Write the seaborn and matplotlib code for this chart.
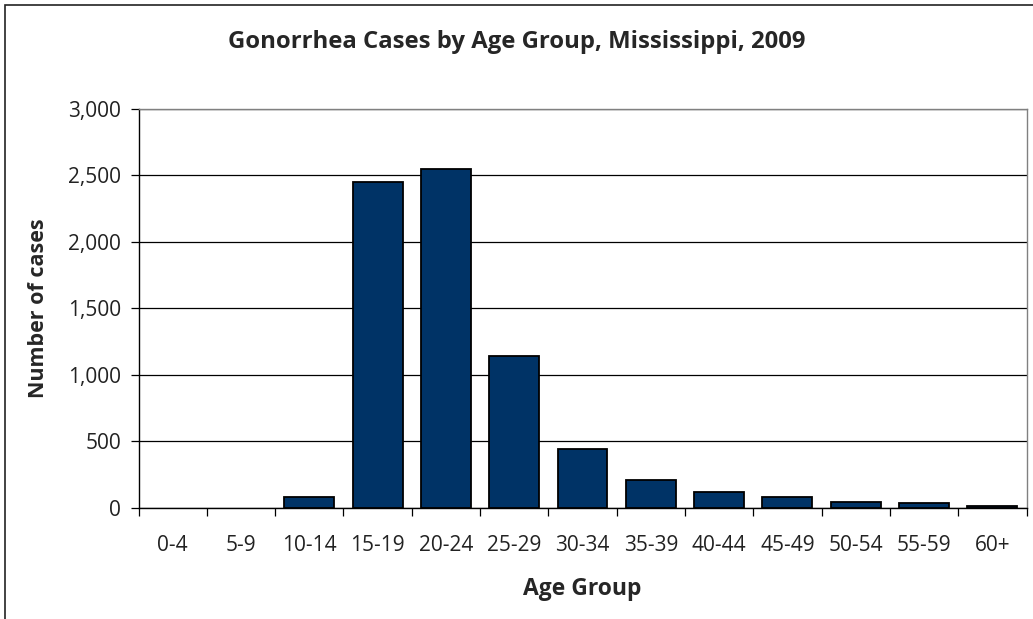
import matplotlib
matplotlib.use("Agg")
import matplotlib.pyplot as plt
import seaborn as sns
import pandas as pd
import numpy as np
from matplotlib.patches import Rectangle
from matplotlib.ticker import FuncFormatter, FixedLocator

age_groups = ["0-4", "5-9", "10-14", "15-19", "20-24", "25-29", "30-34",
              "35-39", "40-44", "45-49", "50-54", "55-59", "60+"]
cases = [0, 0, 82, 2449, 2547, 1142, 440, 208, 118, 82, 45, 33, 10]

title = "Gonorrhea Cases by Age Group, Mississippi, 2009"
xlabel = "Age Group"
ylabel = "Number of cases"
yticks = [0, 500, 1000, 1500, 2000, 2500, 3000]

sns.set_theme(style="white")
plt.rcParams['font.family'] = ['Open Sans', 'DejaVu Sans']

df = pd.DataFrame({"age": age_groups, "cases": cases})

fig = plt.figure(figsize=(10.33, 6.19), dpi=100)
ax = fig.add_axes([138.5/1033, 1-507.5/619, (1026.5-138.5)/1033, (507.5-108.7)/619])

sns.barplot(data=df, x="age", y="cases", order=age_groups, color="#003366",
            saturation=1, width=0.73, edgecolor="black", linewidth=1.3, ax=ax, zorder=3)
for p in ax.patches:
    if p.get_height() == 0:
        p.set_visible(False)

ax.set_xlim(-0.5, len(age_groups) - 0.5)
ax.set_ylim(0, 3000)
ax.set_yticks(yticks)
ax.yaxis.set_major_formatter(FuncFormatter(lambda v, p: f"{int(v):,}"))
ax.yaxis.grid(True, color="black", linewidth=0.9, zorder=0)
ax.set_axisbelow(True)

ax.xaxis.set_minor_locator(FixedLocator(np.arange(-0.5, len(age_groups), 1.0)))
ax.tick_params(axis="x", which="major", length=0, pad=20, labelsize=15, colors="#222222")
ax.tick_params(axis="x", which="minor", bottom=True, length=5.5, width=0.9, color="black")
ax.tick_params(axis="y", which="major", left=True, length=5.5, width=0.9, color="black",
               pad=7, labelsize=15, labelcolor="#222222")

for s in ["left", "bottom"]:
    ax.spines[s].set_color("black")
    ax.spines[s].set_linewidth(1.0)
for s in ["top", "right"]:
    ax.spines[s].set_color("#808080")
    ax.spines[s].set_linewidth(1.0)

ax.set_xlabel(xlabel, fontsize=16.5, fontweight="bold", labelpad=15)
ax.set_ylabel(ylabel, fontsize=15.5, fontweight="bold", labelpad=14)
fig.text(0.5, 1 - 42/619, title, ha="center", va="center", fontsize=17.2, fontweight="bold")

fig.patches.append(Rectangle((5/1033, -0.05), 1.1, 1 - 5/619 + 0.05, transform=fig.transFigure,
                             fill=False, edgecolor="#222222", linewidth=1.2))

fig.savefig("out.png", dpi=100)
